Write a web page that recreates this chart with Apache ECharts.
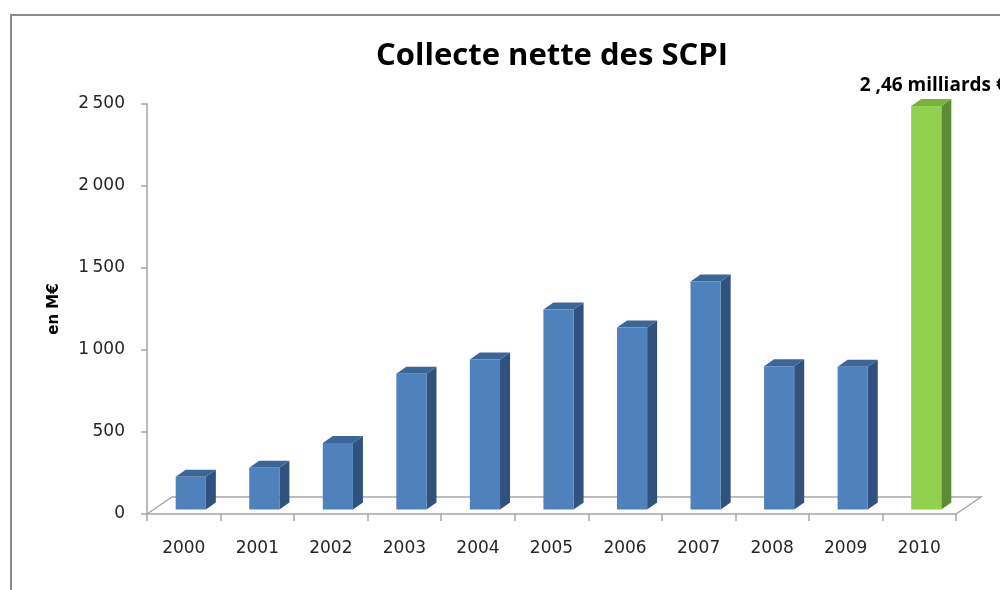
<!DOCTYPE html>
<html>
<head>
<meta charset="utf-8">
<title>Collecte nette des SCPI</title>
<script src="https://cdn.jsdelivr.net/npm/echarts@6/dist/echarts.min.js"></script>
<style>
  html, body { margin: 0; padding: 0; background: #fff; }
  #charts { width: 1000px; height: 590px; }
</style>
</head>
<body>
<div id="charts"></div>
<script>
/* chart data */
const years = ["2000", "2001", "2002", "2003", "2004", "2005", "2006", "2007", "2008", "2009", "2010"];
const collecte = [200, 255, 405, 827, 915, 1220, 1110, 1390, 874, 870, 2460]; // en M€
const yTicks = [0, 500, 1000, 1500, 2000, 2500];
const highlightYear = "2010";
const annotationText = "2 ,46 milliards €";

/* 3D look */
const depthX = 10, depthY = -7; // bar depth
const floorX = 25, floorY = -17; // floor depth
const blue = { front: "#4F81BD", side: "#31527E", top: "#3D6698" };
const green = { front: "#92D050", side: "#5F8B32", top: "#79B03E" };

function fmtThousands(v) {
  if (v < 1000) return String(v);
  let rest = String(v % 1000).padStart(3, "0");
  return Math.floor(v / 1000) + "\u2009" + rest;
}

/* floor of the 3D chart */
function renderFloor(params) {
  let c = params.coordSys;
  let yb = c.y + c.height;
  return {
    type: "polyline",
    shape: {
      points: [
        [c.x, yb],
        [c.x + floorX, yb + floorY],
        [c.x + c.width + floorX, yb + floorY],
        [c.x + c.width, yb],
      ],
    },
    style: { stroke: "#A6A6A6", lineWidth: 1.5, fill: null },
    z2: 0,
  };
}

/* one 3D column */
function renderBar(params, api) {
  let i = api.value(0);
  let v = api.value(1);
  let base = api.coord([i, 0]);
  let top = api.coord([i, v]);
  let w = api.size([1, 0])[0] * 0.41;
  let x0 = base[0] - w / 2 + 7;
  let y0 = base[1] - 4.5;
  let y1 = top[1] - 4.5;
  let col = years[i] === highlightYear ? green : blue;
  let children = [
    {
      type: "polygon",
      shape: { points: [[x0 + w, y0], [x0 + w + depthX, y0 + depthY], [x0 + w + depthX, y1 + depthY], [x0 + w, y1]] },
      style: { fill: col.side },
    },
    {
      type: "polygon",
      shape: { points: [[x0, y1], [x0 + depthX, y1 + depthY], [x0 + w + depthX, y1 + depthY], [x0 + w, y1]] },
      style: { fill: col.top },
    },
    {
      type: "rect",
      shape: { x: x0, y: y1, width: w, height: y0 - y1 },
      style: { fill: col.front },
    },
  ];
  if (years[i] === highlightYear) {
    //annotation over the highlighted bar
    children.push({
      type: "text",
      style: {
        x: x0 + w / 2 + depthX / 2 + 2,
        y: y1 + depthY - 13,
        text: annotationText,
        fill: "#000",
        font: "bold 19px 'Open Sans'",
        align: "center",
        verticalAlign: "middle",
      },
    });
  }
  return { type: "group", children: children };
}

let myChart = echarts.init(document.getElementById("charts"));
let option = {
  animation: false,
  title: {
    text: "Collecte nette des SCPI",
    left: 547,
    top: 36,
    textAlign: "center",
    textStyle: { fontFamily: "Open Sans", fontWeight: "bold", fontSize: 31, color: "#000" },
  },
  graphic: [
    {
      type: "rect",
      shape: { x: 11, y: 15, width: 1000, height: 600 },
      style: { fill: null, stroke: "#8C8C8C", lineWidth: 2 },
      silent: true,
    },
  ],
  grid: { left: 147, right: 44, top: 104, bottom: 76 },
  xAxis: {
    type: "category",
    data: years,
    axisLine: { lineStyle: { color: "#A6A6A6", width: 1.5 } },
    axisTick: { show: true, length: 7, lineStyle: { color: "#A6A6A6", width: 1.5 } },
    axisLabel: { margin: 26, fontFamily: "DejaVu Sans", fontSize: 17, color: "#262626" },
  },
  yAxis: {
    type: "value",
    min: yTicks[0],
    max: yTicks[yTicks.length - 1],
    interval: yTicks[1] - yTicks[0],
    name: "en M€",
    nameLocation: "middle",
    nameRotate: 90,
    nameGap: 85,
    nameTextStyle: { fontFamily: "DejaVu Sans", fontWeight: "bold", fontSize: 15, color: "#000" },
    axisLine: { show: true, lineStyle: { color: "#A6A6A6", width: 1.5 } },
    axisTick: { show: true, length: 6, lineStyle: { color: "#A6A6A6", width: 1.5 } },
    splitLine: { show: false },
    axisLabel: {
      margin: 22,
      padding: [6, 0, 0, 0],
      fontFamily: "DejaVu Sans",
      fontSize: 17,
      color: "#262626",
      formatter: fmtThousands,
    },
  },
  series: [
    {
      type: "custom",
      renderItem: renderFloor,
      data: [0],
      silent: true,
      z: 1,
    },
    {
      type: "custom",
      renderItem: renderBar,
      data: collecte.map((v, i) => [i, v]),
      encode: { x: 0, y: 1 },
      clip: false,
      z: 2,
    },
  ],
};
myChart.setOption(option);
</script>
</body>
</html>
